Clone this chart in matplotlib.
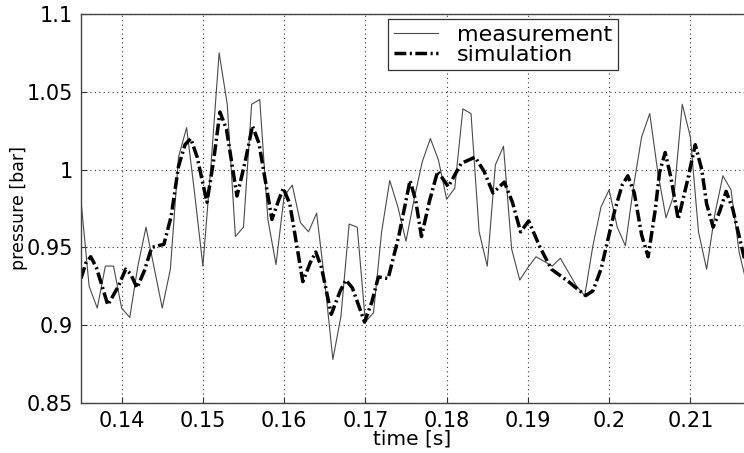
import numpy as np
import matplotlib
matplotlib.use("Agg")
import matplotlib.pyplot as plt

# measured pressure, sampled every 1 ms from 135 ms
meas_t0_ms = 135
meas_p = [0.980, 0.925, 0.911, 0.938, 0.938, 0.911, 0.905, 0.938, 0.963, 0.937,
          0.911, 0.936, 1.008, 1.027, 0.984, 0.938, 1.003, 1.075, 1.042, 0.957,
          0.963, 1.042, 1.045, 0.968, 0.939, 0.983, 0.990, 0.966, 0.960, 0.972,
          0.928, 0.878, 0.906, 0.965, 0.963, 0.902, 0.908, 0.960, 0.993, 0.976,
          0.954, 0.981, 1.005, 1.020, 1.006, 0.981, 0.988, 1.039, 1.036, 0.960,
          0.938, 1.003, 1.015, 0.949, 0.929, 0.937, 0.944, 0.941, 0.938, 0.943,
          0.934, 0.925, 0.919, 0.951, 0.976, 0.987, 0.963, 0.951, 0.989, 1.021,
          1.036, 0.998, 0.969, 0.984, 1.042, 1.021, 0.960, 0.936, 0.971, 0.996,
          0.987, 0.947, 0.925]

# simulated pressure (denser around the peaks)
sim_t_ms = [135.0, 135.6, 136.2, 136.9, 138.3, 139.6, 140.5, 141.1, 141.9, 142.8,
            143.7, 145.2, 146.1, 147.0, 147.8, 148.5, 149.3, 150.5, 151.3, 152.1,
            152.9, 154.2, 155.2, 156.1, 156.9, 158.5, 159.3, 159.9, 160.7, 162.3,
            163.2, 163.9, 164.6, 165.8, 166.9, 167.6, 168.4, 169.9, 170.8, 171.6,
            172.8, 174.1, 175.5, 176.2, 176.9, 177.9, 178.9, 180.2, 181.8, 183.5,
            184.6, 185.7, 187.1, 188.1, 189.1, 190.1, 191.5, 192.9, 195.0, 197.1,
            198.0, 199.0, 200.7, 201.6, 202.3, 203.1, 204.0, 204.8, 205.7, 206.2,
            206.9, 207.6, 208.5, 209.6, 210.6, 211.4, 212.0, 212.8, 213.6, 214.4,
            215.2, 216.6, 217.0]
sim_p = [0.930, 0.940, 0.944, 0.937, 0.913, 0.925, 0.936, 0.933, 0.924, 0.935,
         0.950, 0.952, 0.970, 1.002, 1.016, 1.020, 1.008, 0.979, 1.005, 1.037,
         1.026, 0.983, 1.005, 1.028, 1.017, 0.968, 0.980, 0.988, 0.978, 0.928,
         0.940, 0.947, 0.937, 0.907, 0.922, 0.929, 0.924, 0.902, 0.915, 0.931,
         0.930, 0.957, 0.993, 0.980, 0.957, 0.980, 0.999, 0.989, 1.004, 1.008,
         0.999, 0.985, 0.992, 0.979, 0.960, 0.967, 0.950, 0.936, 0.928, 0.919,
         0.922, 0.936, 0.974, 0.990, 0.996, 0.985, 0.958, 0.944, 0.975, 0.998,
         1.011, 0.995, 0.968, 0.992, 1.016, 1.000, 0.978, 0.963, 0.973, 0.986,
         0.975, 0.944, 0.938]

x_ticks = [0.14, 0.15, 0.16, 0.17, 0.18, 0.19, 0.20, 0.21]
x_labels = ["0.14", "0.15", "0.16", "0.17", "0.18", "0.19", "0.2", "0.21"]
y_ticks = [0.85, 0.9, 0.95, 1.0, 1.05, 1.1]
y_labels = ["0.85", "0.9", "0.95", "1", "1.05", "1.1"]

plt.rcParams["font.family"] = ["DejaVu Sans"]

t_meas = (meas_t0_ms + np.arange(len(meas_p))) / 1000.0
t_sim = np.array(sim_t_ms) / 1000.0

fig = plt.figure(figsize=(7.44, 4.53), dpi=100)
ax = fig.add_axes([81 / 744, 50 / 453, 663 / 744, 389 / 453])

ax.plot(t_meas, meas_p, color="#4a4a4a", lw=0.8, label="measurement")
ax.plot(t_sim, sim_p, color="black", lw=2.5,
        linestyle=(0, (3.4, 1.0, 0.6, 1.0)), label="simulation")

ax.set_xlim(0.135, 0.2166)
ax.set_ylim(0.85, 1.1)
ax.set_xticks(x_ticks)
ax.set_xticklabels(x_labels)
ax.set_yticks(y_ticks)
ax.set_yticklabels(y_labels)
ax.tick_params(direction="in", length=4, width=0.8, labelsize=15,
               colors="#333333", labelcolor="black")
ax.tick_params(axis="x", pad=6)
ax.tick_params(axis="y", pad=6)

ax.grid(True, color="#333333", linestyle=(0, (1, 3)), linewidth=0.8)
for side in ["top", "left", "bottom"]:
    ax.spines[side].set_color("#444444")
    ax.spines[side].set_linewidth(1.0)
ax.spines["right"].set_visible(False)

ax.set_xlabel("time [s]", fontsize=14.5, labelpad=-1)
ax.set_ylabel("pressure [bar]", fontsize=12.5, labelpad=-1)

leg = ax.legend(loc="upper left", bbox_to_anchor=(388 / 744, 1 - 19 / 453),
                bbox_transform=fig.transFigure, fontsize=16, frameon=True,
                fancybox=False, shadow=False, handlelength=2.0,
                handletextpad=0.85, borderpad=0.25, labelspacing=0.0,
                borderaxespad=0)
leg.get_frame().set_edgecolor("#333333")
leg.get_frame().set_linewidth(0.9)
leg.get_frame().set_alpha(1)

fig.savefig("out.png", dpi=100)
